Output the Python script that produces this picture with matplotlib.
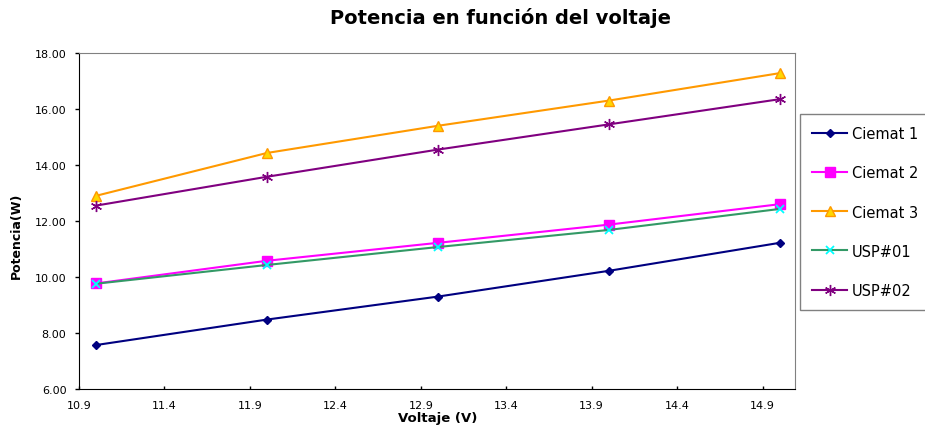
import matplotlib.pyplot as plt
from matplotlib.ticker import MultipleLocator, FormatStrFormatter

plt.rcParams['font.family'] = ['DejaVu Sans']

# voltages (V) and power (W)
voltaje = [11.0, 12.0, 13.0, 14.0, 15.0]
ciemat_1 = [7.57, 8.48, 9.30, 10.22, 11.22]
ciemat_2 = [9.77, 10.58, 11.22, 11.87, 12.60]
ciemat_3 = [12.90, 14.43, 15.40, 16.30, 17.28]
usp_01 = [9.76, 10.43, 11.07, 11.68, 12.43]
usp_02 = [12.55, 13.58, 14.55, 15.45, 16.35]

fig = plt.figure(figsize=(9.25, 4.27), dpi=100)
ax = fig.add_axes([79/925, 1-390/427, 716/925, 336/427])

ax.plot(voltaje, ciemat_1, color='#000080', lw=1.5, marker='D', ms=4.5, label='Ciemat 1')
ax.plot(voltaje, ciemat_2, color='#FF00FF', lw=1.5, marker='s', ms=6.5, label='Ciemat 2')
ax.plot(voltaje, ciemat_3, color='#FF9900', lw=1.5, marker='^', ms=7.5,
        mfc='#FFD700', mec='#FF9900', label='Ciemat 3')
ax.plot(voltaje, usp_01, color='#339966', lw=1.5, marker='x', ms=6,
        mec='#00FFFF', mew=1.3, label='USP#01')
ax.plot(voltaje, usp_02, color='#800080', lw=1.5, marker=(6, 2, 0), ms=8,
        mew=1, label='USP#02')

ax.set_xlim(10.9, 15.09)
ax.set_ylim(6, 18)
ax.xaxis.set_major_locator(MultipleLocator(0.5, offset=0.4))
ax.xaxis.set_major_formatter(FormatStrFormatter('%.1f'))
ax.yaxis.set_major_locator(MultipleLocator(2))
ax.yaxis.set_major_formatter(FormatStrFormatter('%.2f'))
ax.tick_params(axis='y', labelsize=8, length=3, width=1, direction='out', pad=6)
ax.tick_params(axis='x', labelsize=8, length=2.5, width=1, direction='in', pad=8)

for s in ['top', 'right']:
    ax.spines[s].set_color('#808080')
for s in ['left', 'bottom']:
    ax.spines[s].set_color('black')

ax.set_xlabel('Voltaje (V)', fontsize=9.5, fontweight='bold', va='center')
ax.xaxis.set_label_coords((438-79)/716, -(419-390)/336)
ax.set_ylabel('Potencia(W)', fontsize=9, fontweight='bold', va='center',
              family=['Liberation Sans Narrow', 'DejaVu Sans'])
ax.yaxis.set_label_coords(-(79-16)/716, (390-236)/336)
fig.text(501/925, 1-18/427, 'Potencia en función del voltaje', ha='center', va='center',
         fontsize=14, fontweight='bold')

leg = fig.legend(loc='upper left', bbox_to_anchor=(800/925, 1-115/427), fontsize=10.5,
                 labelspacing=1.65, handlelength=2.4, handletextpad=0.3,
                 borderpad=0.85, borderaxespad=0, fancybox=False,
                 edgecolor='#808080', framealpha=1)
leg.get_frame().set_linewidth(1)

fig.savefig('out.png', dpi=100)
